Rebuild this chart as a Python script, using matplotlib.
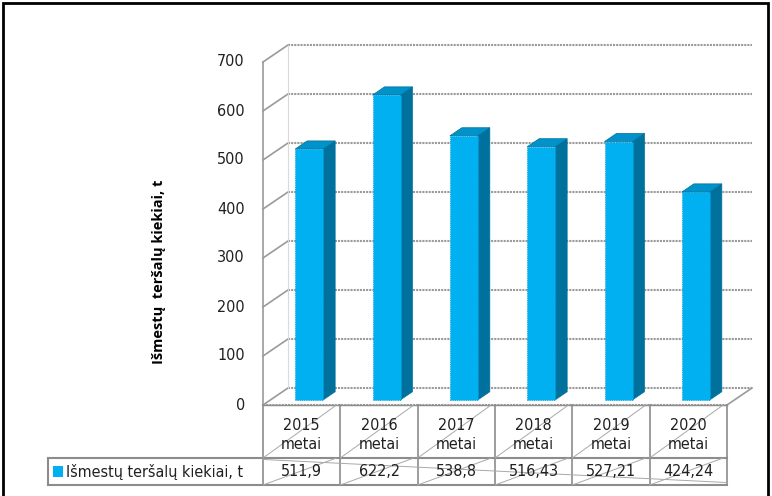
import matplotlib
matplotlib.use("Agg")
import matplotlib.pyplot as plt
from matplotlib.patches import Polygon, Rectangle

plt.rcParams['font.family'] = ['DejaVu Sans']
plt.rcParams['font.stretch'] = 'condensed'

# data
years = ['2015', '2016', '2017', '2018', '2019', '2020']
cat_labels = [y + '\nmetai' for y in years]
values = [511.9, 622.2, 538.8, 516.43, 527.21, 424.24]
value_labels = ['511,9', '622,2', '538,8', '516,43', '527,21', '424,24']
series_name = 'Išmestų teršalų kiekiai, t'
yticks = [0, 100, 200, 300, 400, 500, 600, 700]

front = '#00B0F0'
side = '#00719C'
top = '#0092C8'
grid = '#9A9A9A'

W, H = 772, 496
fig = plt.figure(figsize=(W / 100, H / 100), dpi=100)

# front plane of the 3d box, in pixels: x 263..727, y 405 (0) .. 62 (700)
left_px, right_px, bot_px, top_px = 263, 727, 405, 62
ax = fig.add_axes([left_px / W, (H - bot_px) / H,
                   (right_px - left_px) / W, (bot_px - top_px) / H])
n = len(years)
ax.set_xlim(-0.5, n - 0.5)
ax.set_ylim(0, 700)
ax.axis('off')

px_x = (right_px - left_px) / n          # pixels per category
px_y = (bot_px - top_px) / 700.0          # pixels per unit
dx = 25 / px_x                            # depth offset in data units
dy = 17 / px_y

# walls: gridlines on back wall + side wall
for v in yticks:
    ax.plot([-0.5 + dx, n - 0.5 + dx], [v + dy, v + dy], color=grid, lw=1.5,
            ls=(0, (1, 0.5)), clip_on=False, zorder=1)
    ax.plot([-0.5, -0.5 + dx], [v, v + dy], color=grid, lw=1.2, clip_on=False, zorder=1)
ax.plot([-0.5, -0.5], [0, 700], color=grid, lw=1.2, clip_on=False, zorder=1)
ax.plot([-0.5 + dx, -0.5 + dx], [dy, 700 + dy], color='#DADADA', lw=0.8, clip_on=False, zorder=1)
# floor
ax.plot([-0.5, n - 0.5], [0, 0], color=grid, lw=1.5, ls=(0, (1, 0.5)), clip_on=False, zorder=1)
ax.plot([n - 0.5, n - 0.5 + dx], [0, dy], color=grid, lw=1.2, clip_on=False, zorder=1)

for v in yticks:
    ax.text(-0.5 - 18 / px_x, v, str(v), ha='right', va='center', fontsize=11.5,
            color='#202020')

# 3d bars
bw = 28 / px_x
f1, f2 = 0.3, 0.78
for i, v in enumerate(values):
    x0 = i - bw / 2 + f1 * dx
    y0 = f1 * dy
    ox, oy = (f2 - f1) * dx, (f2 - f1) * dy
    ax.add_patch(Polygon([[x0 + bw, y0], [x0 + bw + ox, y0 + oy], [x0 + bw + ox, y0 + oy + v],
                          [x0 + bw, y0 + v]], closed=True, fc=side, ec=side, lw=0.5,
                         clip_on=False, zorder=3))
    ax.add_patch(Polygon([[x0, y0 + v], [x0 + bw, y0 + v], [x0 + bw + ox, y0 + oy + v],
                          [x0 + ox, y0 + oy + v]], closed=True, fc=top, ec=side, lw=0.5,
                         clip_on=False, zorder=3))
    ax.add_patch(Rectangle((x0, y0), bw, v, fc=front, ec='#0099D8', lw=0.6,
                           ls=':', clip_on=False, zorder=4))

# data table under the chart
row1 = -(458 - bot_px) / px_y
row2 = -(485 - bot_px) / px_y
leg_left = -0.5 - (left_px - 48) / px_x
tcol = '#8C8C8C'
diag = '#A8A8A8'
ax.plot([-0.5, n - 0.5], [0, 0], color=tcol, lw=1.0, clip_on=False, zorder=2)
ax.plot([leg_left, n - 0.5], [row1, row1], color=tcol, lw=1.5, clip_on=False, zorder=2)
ax.plot([leg_left, n - 0.5], [row2, row2], color=tcol, lw=1.5, clip_on=False, zorder=2)
ax.plot([leg_left, leg_left], [row1, row2], color=tcol, lw=1.5, clip_on=False, zorder=2)
for k in range(n + 1):
    ax.plot([k - 0.5, k - 0.5], [0, row2], color=tcol, lw=1.2, clip_on=False, zorder=2)
for k in range(n):
    ax.plot([k - 0.5, k + 0.45], [row1, 0], color=diag, lw=0.7, clip_on=False, zorder=2)
    ax.plot([k - 0.5, k + 0.45], [row2, row1], color=diag, lw=0.7, clip_on=False, zorder=2)
    ax.text(k, -(435 - bot_px) / px_y, cat_labels[k], ha='center', va='center', fontsize=11.5,
            color='#202020', linespacing=1.3)
    ax.text(k, (row1 + row2) / 2, value_labels[k], ha='center', va='center',
            fontsize=11.5, color='#202020')
ax.plot([-0.5, n - 0.5], [row1 - 3, row2 + 5], color=diag, lw=0.7, clip_on=False, zorder=2)

ax.add_patch(Rectangle((leg_left + 5 / px_x, (row1 + row2) / 2 - 5.5 / px_y), 10 / px_x, 11 / px_y,
                       fc=front, ec='none', clip_on=False))
ax.text(leg_left + 18 / px_x, (row1 + row2) / 2, series_name, ha='left', va='center',
        fontsize=11.5, color='#202020')

fig.text(159 / W, 1 - 272 / H, 'Išmestų  teršalų kiekiai, t', rotation=90, ha='center',
         va='center', fontsize=10.5, fontweight='bold', family=['Open Sans', 'DejaVu Sans'])

# outer frame
fig.patches.append(Rectangle((3 / W, -0.01), (768 - 3) / W, 1 - 3 / H + 0.01,
                             transform=fig.transFigure, fc='none', ec='black', lw=2))

fig.savefig('out.png', dpi=100)
